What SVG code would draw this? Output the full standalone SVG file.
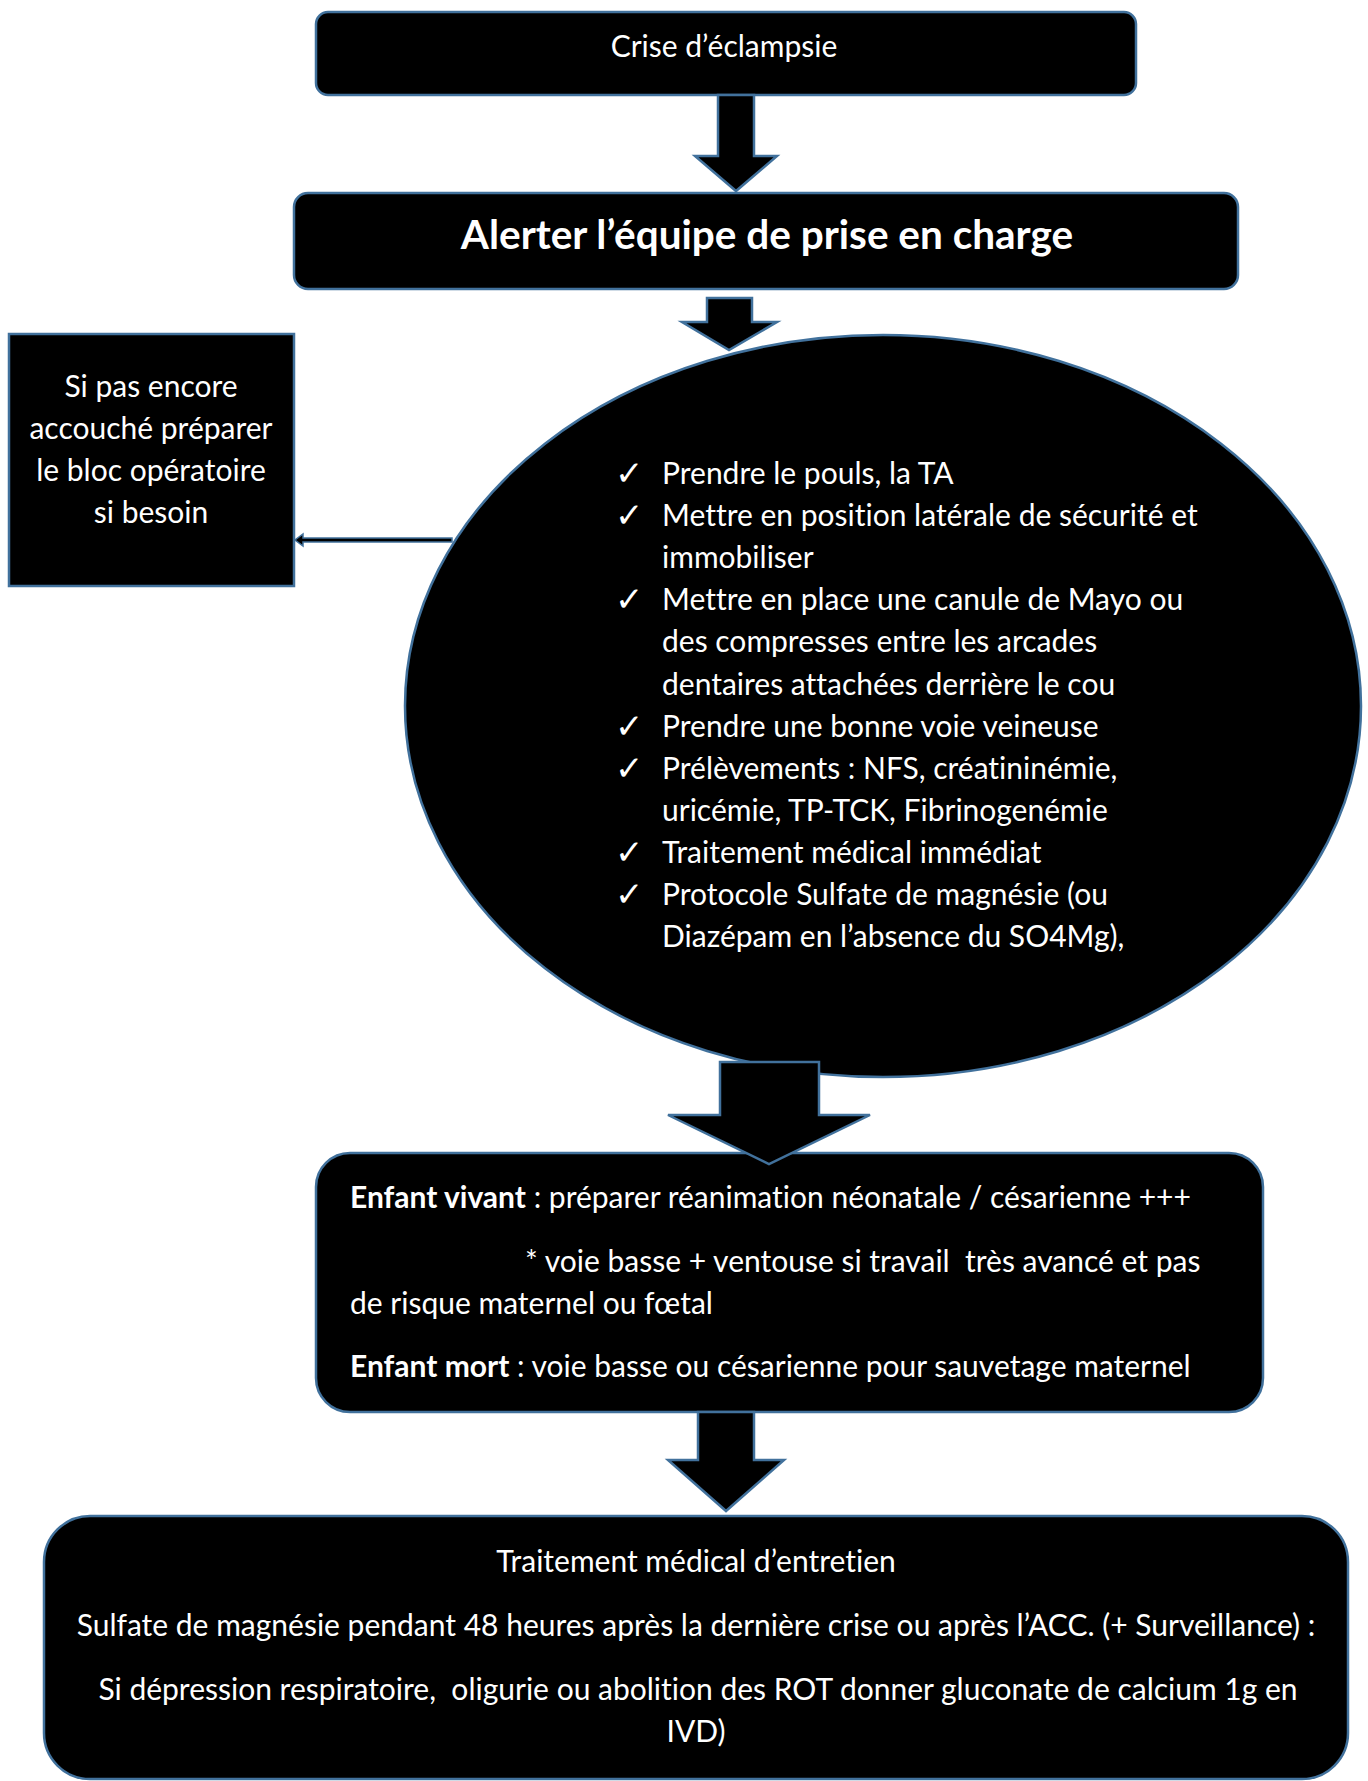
<svg xmlns="http://www.w3.org/2000/svg" width="1368" height="1781" viewBox="0 0 1368 1781">
<style>
.shape{fill:#000;stroke:#41719C;stroke-width:2.5}
.t{font-family:Lato,"Liberation Sans",sans-serif;font-size:30px;fill:#fff;font-variant-ligatures:none}
.c{text-anchor:middle}
.b{font-weight:bold}
.chk{font-family:"DejaVu Sans",sans-serif;font-size:34px;fill:#fff}
</style>
<rect width="1368" height="1781" fill="#fff"/>
<g id="n1">
<rect class="shape" x="316" y="12" width="820" height="83" rx="12"/>
<text class="t c" x="724" y="57">Crise d’éclampsie</text>
</g>
<g id="n2">
<rect class="shape" x="294" y="193" width="944" height="96" rx="14"/>
<text class="t c b" x="767" y="249" style="font-size:40.5px">Alerter l’équipe de prise en charge</text>
</g>
<g id="n3">
<rect class="shape" x="9" y="334" width="285" height="252"/>
<text class="t c" x="151" y="397">Si pas encore</text>
<text class="t c" x="151" y="439">accouché préparer</text>
<text class="t c" x="151" y="481">le bloc opératoire</text>
<text class="t c" x="151" y="523">si besoin</text>
</g>
<g id="n4">
<ellipse class="shape" cx="883" cy="706" rx="478" ry="371"/>
<text class="chk" x="615" y="485">✓</text>
<text class="chk" x="615" y="527">✓</text>
<text class="chk" x="615" y="611">✓</text>
<text class="chk" x="615" y="738">✓</text>
<text class="chk" x="615" y="780">✓</text>
<text class="chk" x="615" y="864">✓</text>
<text class="chk" x="615" y="906">✓</text>
<text class="t" x="662" y="484">Prendre le pouls, la TA</text>
<text class="t" x="662" y="526">Mettre en position latérale de sécurité et</text>
<text class="t" x="662" y="568">immobiliser</text>
<text class="t" x="662" y="610">Mettre en place une canule de Mayo ou</text>
<text class="t" x="662" y="652">des compresses entre les arcades</text>
<text class="t" x="662" y="695">dentaires attachées derrière le cou</text>
<text class="t" x="662" y="737">Prendre une bonne voie veineuse</text>
<text class="t" x="662" y="779">Prélèvements : NFS, créatininémie,</text>
<text class="t" x="662" y="821">uricémie, TP-TCK, Fibrinogenémie</text>
<text class="t" x="662" y="863">Traitement médical immédiat</text>
<text class="t" x="662" y="905">Protocole Sulfate de magnésie (ou</text>
<text class="t" x="662" y="947">Diazépam en l’absence du SO4Mg),</text>
</g>
<g id="n5">
<rect class="shape" x="316" y="1153" width="947" height="259" rx="34"/>
<text class="t" x="350" y="1208"><tspan class="b">Enfant vivant</tspan> : préparer réanimation néonatale / césarienne +++</text>
<text class="t" x="525" y="1272" xml:space="preserve">* voie basse + ventouse si travail  très avancé et pas</text>
<text class="t" x="350" y="1314">de risque maternel ou fœtal</text>
<text class="t" x="350" y="1377"><tspan class="b">Enfant mort</tspan> : voie basse ou césarienne pour sauvetage maternel</text>
</g>
<g id="n6">
<rect class="shape" x="44" y="1516" width="1304" height="263" rx="46"/>
<text class="t c" x="696" y="1572">Traitement médical d’entretien</text>
<text class="t c" x="696" y="1636">Sulfate de magnésie pendant 48 heures après la dernière crise ou après l’ACC. (+ Surveillance) :</text>
<text class="t c" x="698" y="1700" xml:space="preserve">Si dépression respiratoire,  oligurie ou abolition des ROT donner gluconate de calcium 1g en</text>
<text class="t c" x="696" y="1742">IVD)</text>
</g>
<g id="connectors">
<polygon class="shape" points="718,95 754,95 754,156 777,156 736,191 695,156 718,156"/>
<polygon class="shape" points="707,298 752,298 752,322 777,322 729,350 682,322 707,322"/>
<polygon class="shape" points="452,538 303,538 303,534 295,540 303,546 303,542 452,542" style="stroke-width:1.5"/>
<polygon class="shape" points="720,1062 819,1062 819,1115 870,1115 769,1164 668,1115 720,1115"/>
<polygon class="shape" points="698,1412 754,1412 754,1460 784,1460 726,1511 668,1460 698,1460"/>
</g>
</svg>
